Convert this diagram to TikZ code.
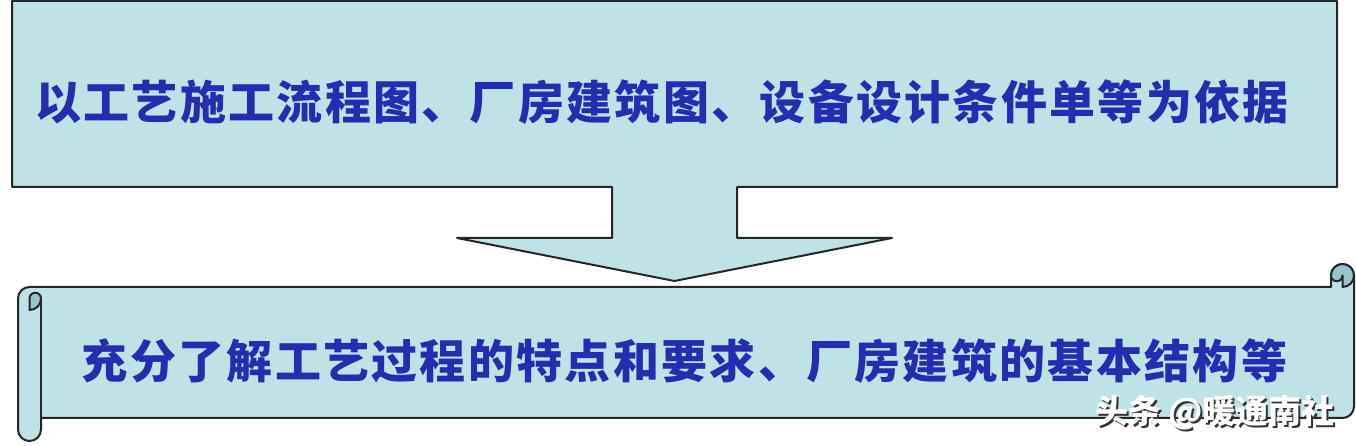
\documentclass[tikz,border=0pt]{standalone}
\usepackage{fontspec}
\newfontfamily\cjk{Noto Sans CJK SC}
\definecolor{scrollfill}{RGB}{190,226,229}
\definecolor{rolldark}{RGB}{150,198,202}
\definecolor{textblue}{RGB}{38,44,176}

\begin{document}
\begin{tikzpicture}[x=1pt, y=1pt, line join=round,
  shapeline/.style={draw=black!85, line width=2pt, fill=scrollfill},
  bigtext/.style={font=\cjk\bfseries\fontsize{46}{50}\selectfont\addfontfeature{LetterSpace=5}, text=textblue, inner sep=0pt},
  marktext/.style={font=\cjk\bfseries\fontsize{33}{36}\selectfont, inner sep=0pt}]
\useasboundingbox (0,0) rectangle (1356,446);
\fill[white] (0,0) rectangle (1356,446);
% box with the arrow below it
\path[shapeline] (12,445) -- (1337,445) -- (1337,259) -- (737,259) -- (737,208) -- (892,208) -- (674.5,165) -- (457,208) -- (612,208) -- (612,259) -- (12,259) -- cycle;
% scroll
\path[shapeline] (29.5,159) -- (1331,159) -- (1331,170.5) arc[start angle=180, end angle=0, radius=11.5] -- (1354,39.5) arc[start angle=0, end angle=-90, radius=11.5] -- (41,28) -- (41,16.5) arc[start angle=0, end angle=-180, radius=11.5] -- (18,147.5) arc[start angle=180, end angle=90, radius=11.5] -- cycle;
\draw[line width=2pt, draw=black!85] (41,147.5) -- (41,28);
\path[shapeline, fill=rolldark] (29.5,136) arc[start angle=-90, end angle=0, radius=11.5] arc[start angle=0, end angle=180, radius=5.75] -- cycle;
\path[shapeline, fill=rolldark] (1331,170.5) arc[start angle=180, end angle=-90, radius=11.5] -- (1342.5,170.5) arc[start angle=0, end angle=-180, radius=5.75] -- cycle;

\node[bigtext] (basis) at (662,343.5) {以工艺施工流程图、厂房建筑图、设备设计条件单等为依据};
\node[bigtext] (study) at (684.5,85) {充分了解工艺过程的特点和要求、厂房建筑的基本结构等};
% watermark
\node[marktext, text=black!80] (markshadow) at (1217,31.5) {头条 @暖通南社};
\node[marktext, text=white] (mark) at (1215,33.5) {头条 @暖通南社};
\end{tikzpicture}
\end{document}
